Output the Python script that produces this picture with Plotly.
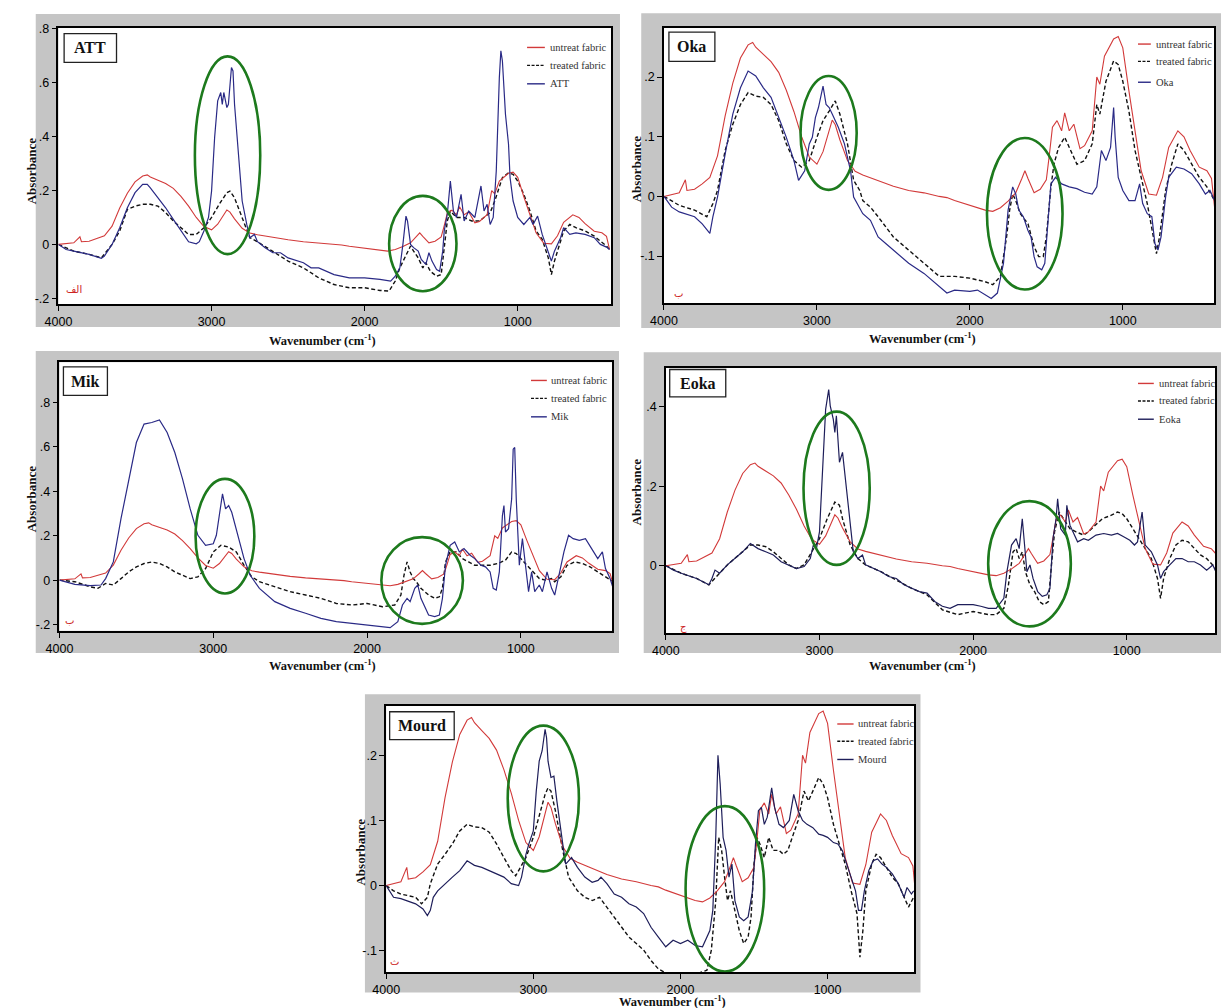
import plotly.graph_objects as go

# ---------------- data (wavenumber cm-1, absorbance) ----------------
UNTREATED = [(4000,0),(3950,0.003),(3900,0.006),(3860,0.028),(3850,0.01),(3800,0.012),(3750,0.021),(3700,0.032),
 (3650,0.068),(3600,0.135),(3550,0.19),(3500,0.232),(3450,0.254),(3420,0.258),(3400,0.25),(3350,0.238),
 (3300,0.226),(3250,0.208),(3200,0.178),(3150,0.142),(3100,0.1),(3050,0.066),(3000,0.054),(2960,0.075),
 (2920,0.108),(2900,0.128),(2880,0.12),(2850,0.095),(2800,0.06),(2750,0.042),(2700,0.036),(2600,0.026),
 (2500,0.017),(2400,0.01),(2300,0.006),(2200,0.0),(2150,-0.002),(2100,-0.007),(2000,-0.015),(1900,-0.023),
 (1850,-0.025),(1800,-0.019),(1750,-0.008),(1700,0.006),(1660,0.03),(1640,0.043),(1620,0.03),(1580,0.006),
 (1540,0.012),(1500,0.028),(1480,0.07),(1460,0.116),(1430,0.127),(1400,0.11),(1380,0.14),(1350,0.11),
 (1320,0.121),(1280,0.08),(1250,0.085),(1200,0.11),(1170,0.2),(1150,0.188),(1120,0.235),(1100,0.245),
 (1060,0.264),(1030,0.268),(1000,0.249),(960,0.177),(920,0.11),(880,0.043),(830,0.004),(780,0.002),
 (740,0.032),(700,0.082),(640,0.11),(600,0.1),(560,0.077),(500,0.049),(450,0.043),(420,0.03),(400,-0.018)]

ATT_SAMPLE = [(4000,0),(3950,-0.019),(3900,-0.025),(3800,-0.037),(3720,-0.052),(3700,-0.043),(3650,0),(3600,0.062),
 (3550,0.136),(3500,0.192),(3450,0.223),(3420,0.223),(3400,0.21),(3350,0.173),(3300,0.136),(3250,0.093),
 (3200,0.05),(3150,0.01),(3100,0.002),(3080,0.01),(3050,0.05),(3020,0.1),(3000,0.198),(2980,0.397),
 (2960,0.533),(2940,0.564),(2930,0.52),(2920,0.564),(2900,0.508),(2890,0.52),(2870,0.657),(2860,0.644),
 (2850,0.52),(2820,0.285),(2800,0.161),(2770,0.074),(2750,0.025),(2720,0.037),(2700,0.01),(2650,-0.012),
 (2600,-0.031),(2550,-0.031),(2500,-0.05),(2400,-0.068),(2350,-0.087),(2300,-0.087),(2250,-0.1),(2200,-0.112),
 (2100,-0.124),(2000,-0.124),(1900,-0.13),(1830,-0.136),(1800,-0.118),(1770,-0.087),(1750,0),(1730,0.105),
 (1720,0.087),(1700,0),(1680,-0.012),(1650,-0.025),(1630,-0.056),(1600,-0.074),(1580,-0.031),(1560,-0.062),
 (1530,-0.093),(1510,-0.1),(1490,-0.025),(1480,0.05),(1460,0.112),(1440,0.235),(1420,0.124),(1400,0.1),
 (1370,0.186),(1350,0.087),(1320,0.124),(1280,0.1),(1240,0.217),(1220,0.124),(1200,0.149),(1180,0.074),
 (1160,0.1),(1140,0.273),(1120,0.62),(1110,0.719),(1100,0.681),(1080,0.483),(1060,0.372),(1050,0.248),
 (1030,0.161),(1000,0.1),(960,0.074),(920,0.1),(900,0.074),(870,0.105),(840,0.037),(800,-0.025),
 (780,-0.062),(760,-0.025),(720,0.025),(700,0.062),(660,0.037),(620,0.043),(560,0.037),(500,0.025),
 (460,0),(420,-0.01),(400,-0.019)]

ATT_TREATED = [(4000,0),(3900,-0.025),(3800,-0.037),(3720,-0.05),(3650,0.0),(3600,0.05),(3550,0.13),(3500,0.142),
 (3450,0.149),(3400,0.149),(3350,0.142),(3300,0.118),(3250,0.087),(3200,0.062),(3150,0.037),(3100,0.037),
 (3050,0.062),(3000,0.1),(2950,0.149),(2900,0.192),(2880,0.198),(2850,0.173),(2800,0.1),(2750,0.025),
 (2700,0.01),(2600,-0.025),(2500,-0.062),(2400,-0.087),(2300,-0.124),(2200,-0.149),(2100,-0.161),(2000,-0.161),
 (1900,-0.171),(1840,-0.173),(1800,-0.136),(1770,-0.087),(1740,-0.05),(1700,-0.006),(1680,-0.025),(1650,-0.05),
 (1620,-0.087),(1600,-0.068),(1570,-0.1),(1530,-0.118),(1500,-0.112),(1480,0),(1460,0.087),(1440,0.124),
 (1400,0.1),(1350,0.1),(1300,0.087),(1250,0.087),(1220,0.1),(1180,0.118),(1150,0.161),(1100,0.248),
 (1060,0.266),(1030,0.26),(1000,0.235),(960,0.186),(920,0.124),(880,0.05),(840,0.019),(800,-0.05),
 (780,-0.112),(760,-0.062),(720,0.012),(700,0.05),(660,0.074),(620,0.062),(560,0.05),(500,0.031),
 (460,0.012),(420,-0.006),(400,-0.019)]

OKA_SAMPLE = [(4000,0),(3950,-0.018),(3900,-0.026),(3800,-0.034),(3750,-0.046),(3700,-0.062),(3680,-0.034),(3650,-0.001),
 (3600,0.071),(3550,0.138),(3500,0.182),(3450,0.21),(3400,0.202),(3350,0.182),(3300,0.166),(3250,0.132),
 (3200,0.099),(3150,0.06),(3120,0.027),(3080,0.043),(3050,0.088),(3030,0.099),(3010,0.132),(2990,0.149),
 (2960,0.185),(2940,0.154),(2920,0.149),(2900,0.138),(2860,0.116),(2820,0.088),(2780,0.043),(2760,-0.001),
 (2700,-0.029),(2650,-0.04),(2600,-0.068),(2550,-0.079),(2500,-0.09),(2400,-0.112),(2300,-0.129),(2200,-0.151),
 (2150,-0.162),(2100,-0.157),(2000,-0.159),(1950,-0.157),(1900,-0.165),(1860,-0.171),(1820,-0.162),(1780,-0.112),
 (1750,-0.023),(1720,0.016),(1700,0.004),(1680,-0.023),(1650,-0.034),(1620,-0.057),(1600,-0.068),(1580,-0.101),
 (1560,-0.118),(1530,-0.123),(1510,-0.112),(1490,-0.04),(1470,0.021),(1440,0.032),(1400,0.021),(1350,0.016),
 (1300,0.013),(1250,0.007),(1200,0.004),(1170,0.016),(1140,0.077),(1110,0.06),(1080,0.082),(1060,0.149),
 (1050,0.099),(1030,0.032),(1000,0.01),(960,-0.007),(920,-0.007),(890,0.021),(870,-0.012),(840,-0.029),
 (810,-0.034),(790,-0.079),(770,-0.09),(750,-0.068),(720,-0.001),(700,0.032),(650,0.049),(600,0.046),
 (550,0.038),(500,0.021),(460,0.004),(430,0.01),(400,-0.007)]

OKA_TREATED = [(4000,0),(3900,-0.015),(3800,-0.023),(3720,-0.034),(3680,-0.012),(3650,0.01),(3600,0.077),(3550,0.121),
 (3500,0.154),(3450,0.174),(3400,0.168),(3350,0.166),(3300,0.154),(3250,0.127),(3200,0.088),(3150,0.06),
 (3100,0.049),(3050,0.06),(3000,0.099),(2960,0.127),(2920,0.143),(2880,0.16),(2850,0.138),(2800,0.088),
 (2760,0.027),(2720,0.01),(2700,-0.007),(2650,-0.018),(2600,-0.034),(2500,-0.068),(2400,-0.09),(2300,-0.112),
 (2200,-0.134),(2100,-0.134),(2000,-0.137),(1900,-0.143),(1850,-0.148),(1800,-0.134),(1760,-0.068),(1740,-0.023),
 (1720,0.004),(1700,-0.007),(1670,-0.029),(1620,-0.046),(1580,-0.084),(1550,-0.101),(1520,-0.101),(1500,-0.068),
 (1470,0.016),(1450,0.054),(1420,0.082),(1380,0.099),(1340,0.077),(1300,0.054),(1250,0.06),(1200,0.088),
 (1170,0.154),(1150,0.138),(1110,0.193),(1060,0.227),(1030,0.221),(1000,0.193),(960,0.143),(920,0.077),
 (880,0.032),(840,-0.012),(800,-0.068),(780,-0.096),(760,-0.068),(720,0.01),(680,0.054),(640,0.088),
 (600,0.077),(550,0.054),(500,0.032),(450,0.016),(400,-0.007)]

MIK_SAMPLE = [(4000,0),(3900,-0.019),(3800,-0.025),(3730,-0.022),(3700,0.007),(3650,0.082),(3600,0.277),(3550,0.441),
 (3500,0.62),(3450,0.703),(3400,0.71),(3350,0.722),(3300,0.665),(3250,0.575),(3200,0.456),(3150,0.321),
 (3100,0.202),(3050,0.157),(3000,0.164),(2980,0.202),(2960,0.306),(2940,0.389),(2920,0.321),(2900,0.336),
 (2880,0.306),(2850,0.232),(2800,0.097),(2760,0.022),(2700,-0.037),(2600,-0.097),(2500,-0.127),(2400,-0.149),
 (2300,-0.172),(2200,-0.187),(2100,-0.194),(2000,-0.202),(1900,-0.209),(1850,-0.214),(1800,-0.187),(1770,-0.112),
 (1740,-0.082),(1720,-0.097),(1690,-0.037),(1670,-0.022),(1650,-0.082),(1620,-0.127),(1600,-0.157),(1560,-0.164),
 (1530,-0.157),(1510,-0.082),(1490,0.067),(1460,0.157),(1430,0.172),(1400,0.127),(1370,0.142),(1330,0.112),
 (1300,0.097),(1260,0.067),(1230,0.06),(1200,0.037),(1180,-0.037),(1160,-0.045),(1140,0.037),(1120,0.291),
 (1110,0.336),(1100,0.217),(1080,0.232),(1060,0.366),(1050,0.59),(1040,0.598),(1030,0.366),(1010,0.067),
 (990,0.187),(970,0.067),(950,-0.052),(930,0.037),(910,-0.052),(880,-0.022),(860,-0.052),(830,0.037),
 (800,-0.037),(780,-0.067),(750,0.037),(720,0.127),(690,0.202),(660,0.187),(620,0.179),(580,0.187),
 (540,0.142),(500,0.097),(470,0.127),(450,0.052),(420,0.007),(400,-0.037)]

MIK_TREATED = [(4000,0),(3900,-0.007),(3800,-0.03),(3750,-0.037),(3700,-0.015),(3650,-0.022),(3600,0.007),(3550,0.037),
 (3500,0.06),(3450,0.075),(3400,0.082),(3350,0.075),(3300,0.06),(3250,0.037),(3200,0.022),(3150,0.007),
 (3100,0.015),(3050,0.052),(3000,0.127),(2950,0.157),(2900,0.149),(2850,0.127),(2800,0.067),(2750,0.015),
 (2700,-0.007),(2600,-0.03),(2500,-0.052),(2400,-0.067),(2300,-0.082),(2200,-0.105),(2100,-0.112),(2000,-0.105),
 (1900,-0.12),(1820,-0.112),(1780,-0.067),(1760,0.022),(1740,0.082),(1720,0.037),(1700,0.007),(1680,-0.007),
 (1650,-0.037),(1600,-0.067),(1560,-0.082),(1530,-0.075),(1510,-0.037),(1490,0.082),(1460,0.127),(1420,0.127),
 (1380,0.097),(1340,0.082),(1300,0.067),(1250,0.067),(1200,0.067),(1150,0.075),(1100,0.09),(1060,0.127),
 (1030,0.12),(1000,0.097),(960,0.067),(920,0.037),(880,0.007),(840,0.0),(800,0.007),(780,-0.007),
 (740,0.015),(700,0.067),(650,0.082),(600,0.075),(550,0.06),(500,0.037),(450,0.015),(400,-0.007)]

EOKA_SAMPLE = [(4000,0),(3950,-0.011),(3900,-0.019),(3800,-0.032),(3720,-0.048),(3700,-0.032),(3680,-0.011),(3650,-0.019),
 (3600,0.002),(3550,0.018),(3500,0.035),(3450,0.056),(3400,0.043),(3350,0.035),(3300,0.027),(3250,0.01),
 (3200,0.002),(3150,-0.007),(3100,-0.002),(3060,0.018),(3040,0.052),(3020,0.043),(3000,0.085),(2980,0.235),
 (2960,0.393),(2940,0.443),(2930,0.402),(2910,0.368),(2900,0.335),(2890,0.377),(2870,0.26),(2850,0.285),
 (2830,0.21),(2800,0.093),(2780,0.035),(2750,0.018),(2720,0.027),(2700,0.002),(2650,-0.007),(2600,-0.015),
 (2550,-0.027),(2500,-0.032),(2450,-0.048),(2400,-0.057),(2350,-0.065),(2300,-0.069),(2250,-0.09),(2200,-0.102),
 (2150,-0.107),(2100,-0.098),(2000,-0.098),(1950,-0.102),(1900,-0.107),(1850,-0.107),(1800,-0.082),(1780,-0.015),
 (1750,0.052),(1720,0.068),(1700,0.043),(1680,0.118),(1670,0.068),(1650,-0.015),(1630,0.002),(1610,-0.032),
 (1580,-0.065),(1550,-0.077),(1520,-0.073),(1500,-0.057),(1480,0.068),(1460,0.118),(1450,0.168),(1430,0.093),
 (1400,0.077),(1390,0.152),(1370,0.102),(1350,0.085),(1320,0.06),(1280,0.068),(1250,0.064),(1200,0.077),
 (1150,0.081),(1100,0.077),(1060,0.081),(1020,0.073),(980,0.064),(950,0.052),(930,0.06),(900,0.135),
 (880,0.052),(840,0.035),(800,0.002),(780,-0.032),(760,-0.015),(720,0.002),(680,0.018),(640,0.018),
 (600,0.01),(560,0.01),(520,0.002),(480,-0.011),(440,0.002),(420,-0.015)]

EOKA_TREATED = [(4000,0),(3900,-0.019),(3800,-0.032),(3720,-0.048),(3600,0.002),(3500,0.035),(3450,0.052),(3400,0.052),
 (3350,0.048),(3300,0.035),(3250,0.018),(3200,0.002),(3150,-0.007),(3100,0.002),(3050,0.035),(3000,0.068),
 (2950,0.118),(2900,0.16),(2870,0.152),(2850,0.118),(2800,0.052),(2750,0.018),(2700,0.002),(2600,-0.015),
 (2500,-0.036),(2400,-0.057),(2300,-0.073),(2200,-0.111),(2100,-0.123),(2000,-0.115),(1900,-0.123),(1850,-0.123),
 (1800,-0.107),(1770,-0.048),(1740,0.035),(1720,0.043),(1700,0.018),(1680,0.035),(1660,-0.015),(1630,-0.048),
 (1600,-0.065),(1570,-0.09),(1540,-0.098),(1510,-0.09),(1490,0.002),(1470,0.085),(1440,0.135),(1400,0.11),
 (1370,0.093),(1330,0.085),(1280,0.077),(1250,0.085),(1200,0.102),(1160,0.118),(1100,0.127),(1060,0.135),
 (1030,0.131),(1000,0.118),(960,0.093),(920,0.068),(880,0.043),(840,0.018),(800,-0.032),(780,-0.082),
 (760,-0.032),(720,0.018),(680,0.052),(640,0.064),(600,0.06),(560,0.043),(520,0.027),(480,0.018),
 (440,0.002),(420,-0.007)]

MOURD_SAMPLE = [(4000,0),(3950,-0.018),(3900,-0.02),(3800,-0.028),(3750,-0.036),(3720,-0.046),(3700,-0.038),(3680,-0.018),
 (3650,-0.008),(3600,0.003),(3550,0.013),(3500,0.023),(3450,0.038),(3400,0.031),(3350,0.028),(3300,0.023),
 (3250,0.018),(3200,0.013),(3150,0.003),(3100,0),(3080,0.013),(3050,0.048),(3030,0.064),(3000,0.084),
 (2980,0.145),(2960,0.191),(2940,0.207),(2920,0.24),(2910,0.227),(2900,0.191),(2880,0.166),(2860,0.168),
 (2840,0.13),(2820,0.094),(2800,0.064),(2780,0.033),(2760,0.038),(2740,0.043),(2700,0.028),(2650,0.013),
 (2600,0.005),(2560,0.008),(2540,0.013),(2500,0.003),(2450,-0.013),(2400,-0.018),(2350,-0.028),(2300,-0.033),
 (2250,-0.043),(2200,-0.064),(2150,-0.079),(2100,-0.094),(2050,-0.084),(2000,-0.089),(1950,-0.084),(1900,-0.092),
 (1850,-0.094),(1800,-0.069),(1780,-0.038),(1760,0.074),(1745,0.2),(1730,0.156),(1710,0.074),(1690,0.054),
 (1670,0.013),(1650,0.033),(1630,-0.023),(1600,-0.048),(1570,-0.054),(1540,-0.048),(1510,-0.008),(1490,0.064),
 (1470,0.115),(1450,0.12),(1430,0.094),(1410,0.105),(1390,0.135),(1380,0.15),(1360,0.12),(1330,0.094),
 (1300,0.089),(1260,0.1),(1230,0.14),(1200,0.115),(1170,0.1),(1140,0.094),(1100,0.089),(1060,0.079),
 (1030,0.077),(1000,0.074),(960,0.066),(930,0.064),(900,0.054),(870,0.033),(840,0.013),(810,-0.008),
 (790,-0.038),(770,-0.038),(750,-0.008),(720,0.023),(690,0.038),(660,0.041),(630,0.033),(600,0.028),
 (560,0.018),(520,0.003),(480,-0.018),(460,-0.003),(430,-0.013),(415,-0.008)]

MOURD_TREATED = [(4000,0),(3950,-0.008),(3900,-0.013),(3800,-0.018),(3760,-0.028),(3720,-0.018),(3700,0.003),(3650,0.033),
 (3600,0.048),(3550,0.064),(3500,0.084),(3450,0.094),(3400,0.09),(3350,0.089),(3300,0.082),(3250,0.064),
 (3200,0.043),(3150,0.023),(3120,0.015),(3100,0.023),(3050,0.043),(3000,0.074),(2960,0.105),(2920,0.14),
 (2900,0.15),(2880,0.145),(2850,0.115),(2800,0.054),(2760,0.013),(2700,-0.008),(2650,-0.018),(2600,-0.023),
 (2550,-0.018),(2500,-0.033),(2450,-0.048),(2400,-0.064),(2350,-0.079),(2300,-0.089),(2250,-0.099),(2200,-0.115),
 (2150,-0.128),(2100,-0.134),(2000,-0.136),(1900,-0.136),(1820,-0.13),(1790,-0.099),(1760,-0.023),(1740,0.074),
 (1720,0.054),(1700,0.013),(1680,-0.023),(1660,-0.008),(1630,-0.038),(1600,-0.069),(1570,-0.089),(1540,-0.079),
 (1520,-0.048),(1500,0.033),(1480,0.074),(1460,0.064),(1430,0.043),(1400,0.074),(1370,0.054),(1330,0.054),
 (1300,0.048),(1270,0.054),(1240,0.074),(1200,0.1),(1160,0.145),(1130,0.13),(1100,0.145),(1060,0.166),
 (1030,0.156),(1000,0.135),(960,0.094),(920,0.064),(880,0.033),(840,-0.008),(800,-0.043),(780,-0.11),
 (760,-0.069),(740,-0.008),(700,0.033),(670,0.048),(640,0.043),(600,0.028),(560,0.013),(520,0.003),
 (480,-0.018),(450,-0.033),(415,-0.018)]

X_TICKS = [4000, 3000, 2000, 1000]
X_TICK_TEXT = ["4000", "3000", "2000", "1000"]
LEGEND_TEXT = ["untreat fabric", "treated fabric"]

# ---------------- layout helpers (pixel -> paper) ----------------
W, H = 1223, 1008
def fx(px): return px / W
def fy(py): return 1 - py / H

RED = "#d23a3a"
DASH_C = "#111111"
GREEN = "#1d7a1d"
SERIF = "Liberation Serif, Times New Roman, serif"
NARROW = "Liberation Sans Narrow, Arial Narrow, Liberation Sans, Arial, sans-serif"

panels = [
    dict(name="ATT", sample=ATT_SAMPLE, treated=ATT_TREATED, blue="#2a2a86",
         plot=(45, 22.7, 604, 301), frame=(22, 9, 613, 324),
         xr=[4000, 390], yr=[-0.222, 0.805],
         yt=[-0.2, 0, 0.2, 0.4, 0.6, 0.8], ytt=["-.2", "0", ".2", ".4", ".6", ".8"],
         box=(50.7, 28.7, 103.7, 57.7), leg=(519, 537, 540, [42.7, 60.7, 79.3]),
         ell=[(3109, 0.698, 2682, -0.036), (1840, 0.18, 1400, -0.174)],
         xtitle=(312, 337), ytitle=(17.5, 167), letter=("الف", 61, 286)),
    dict(name="Oka", sample=OKA_SAMPLE, treated=OKA_TREATED, blue="#2a2a86",
         plot=(657.5, 22.7, 1214, 300), frame=(634.5, 8.3, 1221, 325),
         xr=[4000, 403], yr=[-0.179, 0.283],
         yt=[-0.1, 0, 0.1, 0.2], ytt=["-.1", "0", ".1", ".2"],
         box=(662.5, 27.3, 709, 56.7), leg=(1137, 1150, 1153, [39.3, 56.7, 77.7]),
         ell=[(3107, 0.2017, 2740, 0.011), (1888, 0.098, 1394, -0.156)],
         xtitle=(919, 335), ytitle=(629.5, 165), letter=("ب", 672, 290)),
    dict(name="Mik", sample=MIK_SAMPLE, treated=MIK_TREATED, blue="#2a2a86",
         plot=(46, 359.3, 605, 629.5), frame=(22, 348, 612, 652),
         xr=[4000, 407], yr=[-0.228, 0.982],
         yt=[-0.2, 0, 0.2, 0.4, 0.6, 0.8], ytt=["-.2", "0", ".2", ".4", ".6", ".8"],
         box=(50, 364, 94.5, 392.7), leg=(523, 539, 541.6, [377.7, 395.7, 414.3]),
         ell=[(3115, 0.456, 2733, -0.06), (1907, 0.194, 1377, -0.197)],
         xtitle=(312, 664), ytitle=(17.5, 497), letter=("ب", 56, 619)),
    dict(name="Eoka", sample=EOKA_SAMPLE, treated=EOKA_TREATED, blue="#1e1e5a",
         plot=(659.4, 365, 1215, 631.7), frame=(637, 349.3, 1221, 652),
         xr=[4000, 425], yr=[-0.169, 0.4975],
         yt=[0, 0.2, 0.4], ytt=["0", ".2", ".4"],
         box=(663.3, 366.7, 720, 394.3), leg=(1137, 1153, 1156, [380.7, 398.3, 416.7]),
         ell=[(3104, 0.3875, 2673, 0.002), (1902, 0.1625, 1364, -0.1525)],
         xtitle=(919, 664), ytitle=(629.5, 490), letter=("ج", 677, 626)),
    dict(name="Mourd", sample=MOURD_SAMPLE, treated=MOURD_TREATED, blue="#1e1e5a",
         plot=(376.5, 705, 910.5, 973), frame=(355, 693.3, 917, 993.3),
         xr=[4000, 412], yr=[-0.133, 0.276],
         yt=[-0.1, 0, 0.1, 0.2], ytt=["-.1", "0", ".1", ".2"],
         box=(380, 711, 445.3, 739), leg=(832.8, 849.3, 852, [723.3, 740.7, 759]),
         ell=[(3174, 0.2455, 2690, 0.0218), (1965, 0.122, 1431, -0.132)],
         xtitle=(666, 1001.5), ytitle=(350.6, 852), letter=("ث", 385, 962)),
]

fig = go.Figure()
shapes = []
annotations = []
layout_axes = {}

for i, p in enumerate(panels):
    k = "" if i == 0 else str(i + 1)
    xa, ya = "x" + k, "y" + k
    x0, y0, x1, y1 = p["plot"]
    # gray frame + white plot area
    fx0, fy0, fx1, fy1 = p["frame"]
    shapes.append(dict(type="rect", xref="paper", yref="paper", layer="below",
                       x0=fx(fx0), x1=fx(fx1), y0=fy(fy1), y1=fy(fy0),
                       fillcolor="#c5c5c5", line=dict(width=0)))
    shapes.append(dict(type="rect", xref="paper", yref="paper", layer="below",
                       x0=fx(x0), x1=fx(x1), y0=fy(y1), y1=fy(y0),
                       fillcolor="white", line=dict(width=0)))
    common = dict(showgrid=False, zeroline=False, showline=True, linecolor="black",
                  linewidth=1.5, mirror=True, ticks="outside", ticklen=5, tickwidth=1.3,
                  tickcolor="black", tickfont=dict(family=NARROW, size=12.5, color="black"))
    layout_axes["xaxis" + k] = dict(domain=[fx(x0), fx(x1)], range=p["xr"], anchor=ya,
                                    tickvals=X_TICKS, ticktext=X_TICK_TEXT, **common)
    layout_axes["yaxis" + k] = dict(domain=[fy(y1), fy(y0)], range=p["yr"], anchor=xa,
                                    tickvals=p["yt"], ticktext=p["ytt"], **common)

    for series, color, width, dash in [(p["treated"], DASH_C, 1.4, "4px,2.5px"),
                                       (UNTREATED, RED, 1.1, "solid"),
                                       (p["sample"], p["blue"], 1.2, "solid")]:
        fig.add_trace(go.Scatter(x=[s[0] for s in series], y=[s[1] for s in series],
                                 mode="lines", xaxis=xa, yaxis=ya, showlegend=False,
                                 line=dict(color=color, width=width, dash=dash)))

    # green ellipses
    for (ex0, ey0, ex1, ey1) in p["ell"]:
        shapes.append(dict(type="circle", xref=xa, yref=ya, x0=ex0, x1=ex1, y0=ey1, y1=ey0,
                           line=dict(color=GREEN, width=2.6), layer="above"))

    # panel label box
    bx0, by0, bx1, by1 = p["box"]
    shapes.append(dict(type="rect", xref="paper", yref="paper", x0=fx(bx0), x1=fx(bx1),
                       y0=fy(by1), y1=fy(by0), fillcolor="white",
                       line=dict(color="#222222", width=1.3), layer="above"))
    annotations.append(dict(x=fx((bx0 + bx1) / 2), y=fy((by0 + by1) / 2), xref="paper", yref="paper",
                            text="<b>%s</b>" % p["name"], showarrow=False,
                            font=dict(family=SERIF, size=16, color="#111111"),
                            xanchor="center", yanchor="middle"))

    # legend (manual)
    lx0, lx1, tx, rows = p["leg"]
    legend_items = [(LEGEND_TEXT[0], RED, "solid"), (LEGEND_TEXT[1], DASH_C, "3px,1.5px"),
                    (p["name"], p["blue"], "solid")]
    for (txt, col, dsh), ry in zip(legend_items, rows):
        shapes.append(dict(type="line", xref="paper", yref="paper", x0=fx(lx0), x1=fx(lx1),
                           y0=fy(ry), y1=fy(ry), line=dict(color=col, width=1.4, dash=dsh)))
        annotations.append(dict(x=fx(tx), y=fy(ry), xref="paper", yref="paper", text=txt,
                                showarrow=False, xanchor="left", yanchor="middle",
                                font=dict(family=SERIF, size=10.5, color="#333333")))

    # axis titles
    annotations.append(dict(x=fx(p["xtitle"][0]), y=fy(p["xtitle"][1]), xref="paper", yref="paper",
                            text="<b>Wavenumber (cm<sup>-1</sup>)</b>", showarrow=False,
                            xanchor="center", yanchor="middle",
                            font=dict(family=SERIF, size=12.5, color="#111111")))
    annotations.append(dict(x=fx(p["ytitle"][0]), y=fy(p["ytitle"][1]), xref="paper", yref="paper",
                            text="<b>Absorbance</b>", showarrow=False, textangle=-90,
                            xanchor="center", yanchor="middle",
                            font=dict(family=SERIF, size=13, color="#111111")))
    # small red letter
    lt, ltx, lty = p["letter"]
    annotations.append(dict(x=fx(ltx), y=fy(lty), xref="paper", yref="paper", text=lt,
                            showarrow=False, xanchor="center", yanchor="middle",
                            font=dict(family="DejaVu Sans, Noto Sans", size=10, color="#cc2222")))

fig.update_layout(width=W, height=H, margin=dict(l=0, r=0, t=0, b=0),
                  paper_bgcolor="white", plot_bgcolor="rgba(0,0,0,0)",
                  shapes=shapes, annotations=annotations, showlegend=False, **layout_axes)

fig.write_html("out.html", config={"displayModeBar": False},
               post_script="document.body.style.margin='0';document.body.style.overflow='hidden';")
